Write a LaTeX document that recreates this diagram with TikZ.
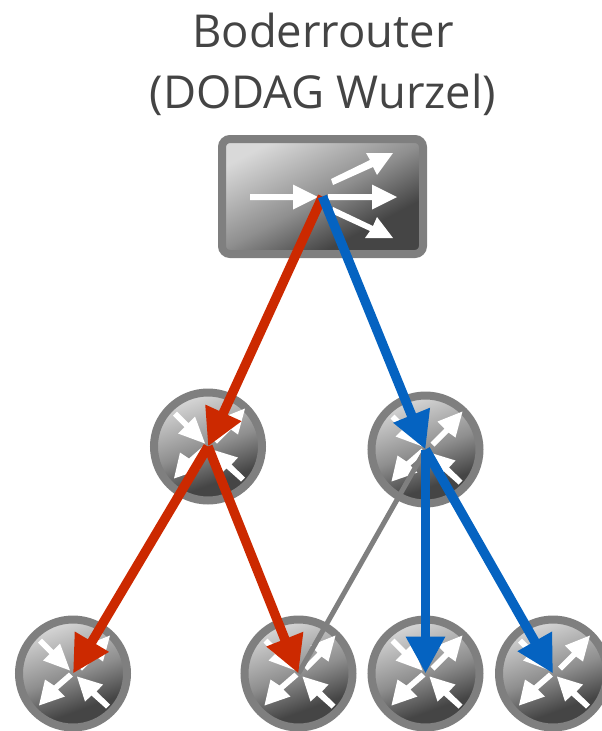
\documentclass[tikz,border=0pt]{standalone}
\usepackage{fontspec}
\setmainfont{Open Sans}
\usetikzlibrary{arrows.meta}
\definecolor{rim}{HTML}{7F7F7F}
\definecolor{txt}{HTML}{444444}
\definecolor{redl}{HTML}{CC2900}
\definecolor{bluel}{HTML}{0563C1}
\pgfdeclareverticalshading{devsh}{100bp}{
  color(0bp)=(black!73!white);
  color(33bp)=(black!73!white);
  color(50bp)=(black!44!white);
  color(75bp)=(black!15!white);
  color(100bp)=(black!15!white)}
\tikzset{
  x=1pt,y=-1pt,
  device/.style={shade,shading=devsh,draw=rim,line width=8pt,inner sep=0pt,outer sep=0pt},
  routerdev/.style={device,circle,minimum size=108pt,shading angle=20},
  switchdev/.style={device,rectangle,rounded corners=8pt,minimum width=201pt,minimum height=115pt,shading angle=28},
  caption/.style={text=txt,align=center,font=\fontsize{45.4}{61.5}\selectfont},
  link/.style={line width=9.5pt,-{Triangle[length=37pt,width=37pt]}},
  redlink/.style={link,draw=redl,color=redl},
  bluelink/.style={link,draw=bluel,color=bluel},
  greylink/.style={line width=5pt,draw=rim},
  glyph/.style={fill=white,draw=none},
  routericon/.pic={
    \fill[glyph] (-3,-3) -- (-30,-13) -- (-23.5,-19.5) -- (-35,-31) -- (-31,-35) -- (-19.5,-23.5) -- (-13,-30) -- cycle;
    \fill[glyph] (37,-38) -- (12,-28) -- (19,-21) -- (5,-7) -- (9,-3) -- (23,-17) -- (30,-12) -- cycle;
    \fill[glyph] (-34,32) -- (-8,23) -- (-15,16) -- (0,3) -- (-4,-1) -- (-19,12) -- (-28,6) -- cycle;
    \fill[glyph] (4,3) -- (30,11) -- (23.5,18) -- (37,31) -- (33,35) -- (18.5,22) -- (12,28) -- cycle;
  },
  switchicon/.pic={
    \fill[glyph] (250,194) -- (293,194) -- (293,184.5) -- (318,197) -- (293,209.5) -- (293,200) -- (250,200) -- cycle;
    \fill[glyph] (328,194) -- (372,194) -- (372,184.5) -- (397,197) -- (372,209.5) -- (372,200) -- (328,200) -- cycle;
    \fill[glyph] (331,179) -- (370,160) -- (366,153) -- (393,153) -- (377,175) -- (373,167) -- (333,185) -- cycle;
    \fill[glyph] (333,207) -- (373,226) -- (377,217) -- (393,238) -- (365,238) -- (370,231) -- (331,213) -- cycle;
  }
}
\begin{document}
\begin{tikzpicture}
\useasboundingbox (0,0) rectangle (602,731);
\node[caption] (title) at (323,64.5) {Boderrouter\\(DODAG Wurzel)};
\node[switchdev] (root) at (322.5,196.5) {};
\pic at (0,0) {switchicon};
\node[routerdev] (ml) at (208,446.5) {};
\pic at (ml.center) {routericon};
\node[routerdev] (mr) at (425.5,449.5) {};
\pic at (mr.center) {routericon};
\node[routerdev] (b1) at (73,673.5) {};
\pic at (b1.center) {routericon};
\node[routerdev] (b2) at (298.5,673.5) {};
\pic at (b2.center) {routericon};
\node[routerdev] (b3) at (425.5,673.5) {};
\pic at (b3.center) {routericon};
\node[routerdev] (b4) at (553,673.5) {};
\pic at (b4.center) {routericon};
\draw[greylink] (mr.center) -- (b2.center);
\draw[redlink] (root.center) -- (ml.center);
\draw[redlink] (ml.center) -- (b1.center);
\draw[redlink] (ml.center) -- (b2.center);
\draw[bluelink] (root.center) -- (mr.center);
\draw[bluelink] (mr.center) -- (b3.center);
\draw[bluelink] (mr.center) -- (b4.center);
\end{tikzpicture}
\end{document}
